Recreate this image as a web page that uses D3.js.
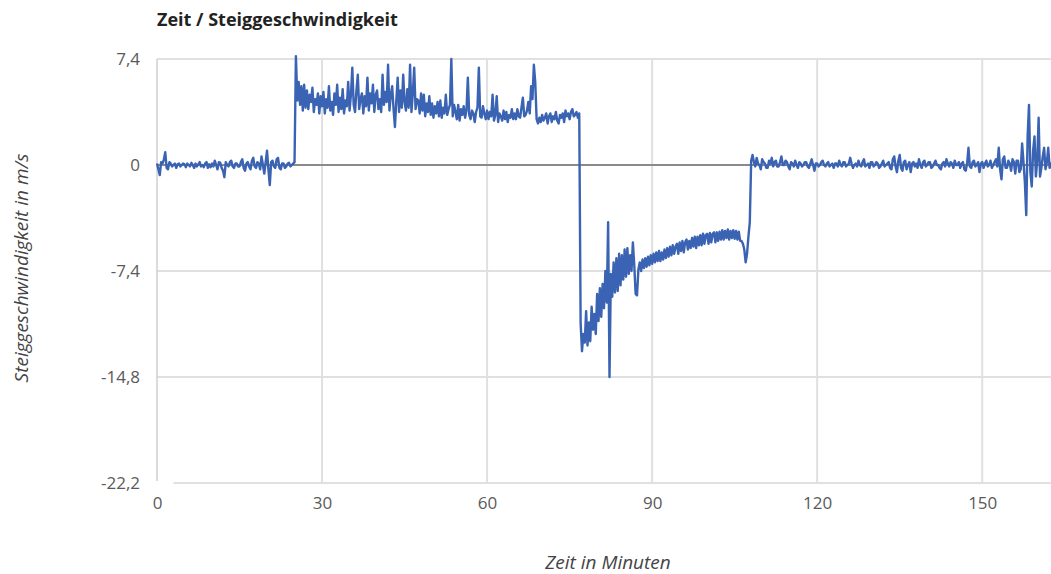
<!DOCTYPE html>
<html><head><meta charset="utf-8">
<script src="https://cdn.jsdelivr.net/npm/d3@7"></script>
<style>
html,body{margin:0;padding:0;background:#fff;}
svg{display:block;font-family:"Open Sans",sans-serif;}
</style></head>
<body><svg id="c" width="1051" height="574"></svg>
<script>
// ---- data ----
const title = "Zeit / Steiggeschwindigkeit";
const xTitle = "Zeit in Minuten";
const yTitle = "Steiggeschwindigkeit in m/s";
const xTicks = [0, 30, 60, 90, 120, 150];
const yTicks = [7.4, 0, -7.4, -14.8, -22.2];
const xDomain = [0, 162.5];
const yDomain = [-22.2, 7.4];
const sampleStepMin = 0.25; // one reading every quarter minute, starting at minute 0
// climb rate (m/s), one reading per quarter minute
const climbRate = [
  // 0 - 25 min: on the ground / waiting
  0.1, -0.3, -0.7, 0.2, 0.1, 0.4, 0.9, -0.2, -0.3, 0.2,
  0.1, -0.1, 0.0, 0.1, -0.2, 0.05, 0.1, -0.1, 0.0, 0.1,
  0.05, -0.15, 0.1, 0.0, -0.1, 0.15, 0.0, -0.2, 0.1, -0.1,
  0.05, 0.2, -0.1, 0.0, -0.15, 0.1, 0.2, -0.2, 0.05, -0.15,
  0.1, -0.1, 0.3, 0.0, -0.3, 0.2, 0.15, -0.2, -0.4, -0.85,
  0.2, 0.0, -0.1, 0.2, 0.3, -0.1, -0.2, 0.1, 0.1, -0.1,
  -0.1, 0.2, 0.4, -0.2, -0.4, 0.1, 0.2, -0.1, -0.3, 0.3,
  0.5, -0.1, -0.2, 0.2, 0.1, -0.3, 0.6, 0.0, -0.6, 0.2,
  1.0, -0.3, -1.4, 0.2, 0.3, -0.1, -0.2, 0.4, 0.5, -0.2,
  -0.3, 0.1, 0.1, -0.2, -0.1, 0.1, 0.15, -0.1, 0.0, 0.1,
  // 25 - 77 min: ascent
  0.2, 7.6, 4.5, 5.8, 4.2, 5.5, 3.8, 5.6, 4.0, 5.2,
  3.9, 4.9, 4.4, 5.4, 3.7, 4.6, 4.2, 5.0, 3.6, 4.8,
  4.1, 5.1, 3.6, 4.6, 4.0, 5.5, 3.8, 4.4, 3.5, 5.0,
  4.2, 5.6, 3.7, 4.7, 3.9, 5.3, 3.6, 4.5, 4.1, 5.8,
  3.8, 4.9, 6.8, 4.2, 3.7, 5.2, 6.3, 3.9, 4.6, 5.0,
  3.6, 4.8, 4.1, 6.1, 3.8, 5.0, 4.3, 5.6, 3.7, 4.9,
  5.2, 3.9, 4.6, 3.7, 6.3, 4.2, 5.1, 4.4, 7.0, 3.8,
  4.9, 5.5, 3.9, 2.65, 4.5, 6.1, 3.7, 5.2, 4.0, 6.3,
  4.4, 3.8, 5.3, 4.0, 7.0, 3.7, 5.0, 6.8, 3.9, 4.6,
  4.5, 3.6, 5.0, 3.8, 4.9, 3.4, 4.3, 3.7, 4.8, 3.5,
  4.3, 3.3, 4.1, 3.6, 4.4, 3.4, 4.5, 3.3, 4.0, 3.6,
  4.9, 3.5, 3.9, 4.2, 7.4, 3.4, 4.2, 3.7, 3.2, 4.2,
  3.1, 3.9, 3.5, 4.1, 3.3, 3.8, 6.1, 3.5, 3.2, 3.8,
  3.6, 3.0, 3.7, 4.0, 6.8, 3.4, 3.3, 4.1, 3.6, 3.2,
  3.8, 3.2, 3.7, 3.4, 4.9, 3.1, 3.5, 4.8, 3.0, 3.6,
  3.4, 3.1, 3.8, 3.2, 3.7, 3.0, 3.5, 3.3, 3.9, 3.2,
  3.6, 3.2, 3.9, 3.4, 3.3, 4.0, 4.7, 3.4, 3.5, 3.8,
  4.4, 3.6, 5.5, 4.6, 7.0, 5.8, 3.2, 2.9, 3.3, 3.0,
  3.5, 3.1, 3.3, 3.6, 2.9, 3.4, 3.6, 3.0, 3.4, 3.2,
  3.7, 3.1, 2.9, 3.5, 3.3, 3.6, 3.0, 3.8, 3.4, 3.6,
  3.2, 3.7, 3.9, 3.4, 3.5, 3.7, 3.3, 3.6,
  // 77 - 108 min: descent
  -11.0, -13.0, -11.8, -12.4, -10.2, -12.6, -11.0, -12.3, -9.9, -11.5,
  -10.4, -11.8, -9.0, -10.9, -8.6, -10.6, -8.3, -10.0, -7.4, -9.6,
  -4.0, -14.8, -7.6, -9.2, -6.8, -8.9, -6.5, -8.8, -6.2, -8.4,
  -6.3, -8.0, -5.9, -7.8, -5.8, -7.6, -6.3, -7.4, -5.4, -7.0,
  -9.0, -9.1, -7.3, -6.8, -7.4, -6.6, -7.2, -6.5, -7.1, -6.4,
  -7.0, -6.3, -6.9, -6.2, -6.8, -6.1, -6.7, -6.0, -6.7, -6.1,
  -6.6, -5.9, -6.5, -5.8, -6.4, -5.7, -6.3, -5.6, -6.2, -5.7,
  -5.5, -6.2, -5.4, -6.0, -5.3, -6.1, -5.4, -5.2, -5.9, -5.3,
  -5.8, -5.1, -5.7, -5.0, -5.8, -5.0, -5.6, -4.9, -5.6, -4.8,
  -5.5, -4.9, -4.8, -5.5, -4.75, -5.4, -4.8, -4.7, -5.4, -4.7,
  -5.3, -4.65, -5.2, -4.55, -5.2, -4.6, -5.1, -4.5, -5.2, -4.6,
  -5.1, -4.55, -5.15, -4.6, -5.2, -4.65, -5.3, -5.3, -5.5, -5.9,
  -6.8, -6.2, -5.0, -4.0,
  // 108 - 162.5 min: landed
  0.3, 0.7, 0.2, -0.1, 0.5, 0.1, 0.0, -0.3, 0.4, 0.2,
  0.1, -0.2, -0.2, 0.3, 0.1, 0.5, -0.1, 0.2, 0.3, -0.1,
  -0.1, 0.2, 0.6, 0.0, 0.0, 0.3, 0.2, -0.1, -0.3, 0.2,
  0.1, -0.1, 0.3, 0.0, -0.2, 0.2, 0.1, -0.1, 0.0, 0.2,
  0.2, -0.1, -0.2, 0.1, 0.4, 0.0, -0.4, 0.1, 0.1, -0.1,
  0.0, 0.2, 0.3, 0.0, -0.1, 0.1, 0.2, -0.1, 0.0, 0.1,
  -0.2, 0.1, 0.1, -0.1, 0.3, 0.0, -0.1, 0.2, 0.2, -0.1,
  0.0, 0.1, 0.5, 0.1, -0.2, 0.0, 0.1, -0.1, 0.3, 0.0,
  -0.1, 0.2, 0.4, -0.1, 0.0, 0.1, -0.2, 0.2, 0.2, -0.1,
  0.0, 0.2, 0.1, -0.2, -0.1, 0.1, 0.3, -0.1, 0.0, 0.1,
  0.2, -0.2, -0.3, 0.4, 0.6, -0.1, -0.5, 0.3, 0.7, -0.2,
  -0.4, 0.2, 0.3, -0.3, 0.0, 0.2, -0.5, 0.1, 0.2, -0.1,
  0.1, -0.2, 0.4, 0.0, -0.2, 0.2, 0.3, -0.1, 0.0, 0.2,
  0.2, -0.2, -0.1, 0.1, 0.3, 0.0, 0.0, -0.2, -0.3, 0.1,
  0.2, -0.1, 0.4, 0.1, -0.1, 0.2, 0.1, -0.2, 0.3, 0.0,
  0.0, 0.2, -0.2, 0.1, 0.2, -0.3, -0.4, 0.1, 1.2, -0.1,
  -0.2, 0.2, 0.3, -0.1, 0.0, 0.2, -0.5, 0.1, 0.2, -0.2,
  0.1, 0.3, -0.1, 0.0, 0.3, -0.2, 0.0, 0.2, 0.4, -0.1,
  1.2, -0.3, -1.0, 0.4, 0.6, -0.2, -0.2, 0.3, 0.1, -0.4,
  0.4, 0.2, -0.6, 0.3, 0.3, -0.5, -0.3, 1.5, 0.2, -1.2,
  -3.5, 2.0, 4.2, -0.5, -1.5, 1.0, 2.0, -0.8, 0.3, 3.3,
  -0.8, -0.2, 0.6, 1.2, -0.3, 0.2, 1.2, -0.2, 0.2
];

// ---- chart ----
const svg = d3.select("#c");
const plotL = 157, plotR = 1051, plotT = 59, plotB = 483;
const x = d3.scaleLinear().domain(xDomain).range([plotL, plotR]);
const y = d3.scaleLinear().domain(yDomain).range([plotB, plotT]);
const fmt = v => String(v).replace(".", ",");

// grid
svg.append("g").selectAll("line").data(yTicks.filter(v => v !== 0)).join("line")
  .attr("x1", plotL).attr("x2", plotR).attr("y1", d => y(d)).attr("y2", d => y(d))
  .attr("stroke", "#e0e0e0").attr("stroke-width", 2);
svg.append("g").selectAll("line").data(xTicks.filter(v => v !== 0)).join("line")
  .attr("x1", d => x(d)).attr("x2", d => x(d)).attr("y1", plotT).attr("y2", plotB)
  .attr("stroke", "#e0e0e0").attr("stroke-width", 2);
// left axis line
svg.append("line").attr("x1", x(0)).attr("x2", x(0)).attr("y1", plotT).attr("y2", plotB)
  .attr("stroke", "#cfcfcf").attr("stroke-width", 1.5);
// zero line
svg.append("line").attr("x1", plotL).attr("x2", plotR).attr("y1", y(0)).attr("y2", y(0))
  .attr("stroke", "#8a8a8a").attr("stroke-width", 2);

// axes via d3 (labels only)
const yAxis = d3.axisLeft(y).tickValues(yTicks).tickFormat(fmt).tickSize(0).tickPadding(17);
const gy = svg.append("g").attr("transform", `translate(${plotL},0)`).call(yAxis);
gy.select(".domain").remove();
gy.selectAll("text").attr("font-size", 17).attr("fill", "#5a5a5a").attr("font-family", "Open Sans");

const xAxis = d3.axisBottom(x).tickValues(xTicks).tickFormat(fmt).tickSize(0).tickPadding(14);
const gx = svg.append("g").attr("transform", `translate(0,${plotB})`).call(xAxis);
gx.select(".domain").remove();
gx.selectAll(".tick").filter(d => d === 0).insert("rect", "text")
  .attr("x", -14).attr("y", -2).attr("width", 30).attr("height", 28).attr("fill", "#fff");
gx.selectAll("text").attr("font-size", 17).attr("fill", "#5a5a5a").attr("font-family", "Open Sans");

// line
const series = climbRate.map((v, i) => ({t: i * sampleStepMin, v}));
svg.append("path").datum(series)
  .attr("fill", "none").attr("stroke", "#3a63b3").attr("stroke-width", 2.4)
  .attr("stroke-linejoin", "round")
  .attr("d", d3.line().x(d => x(d.t)).y(d => y(d.v)));

// titles
svg.append("text").attr("x", 157).attr("y", 26).text(title)
  .attr("font-size", 18).attr("font-weight", "bold").attr("fill", "#222");
svg.append("text").attr("x", 608).attr("y", 569).attr("text-anchor", "middle")
  .attr("font-size", 19).attr("font-style", "italic").attr("fill", "#444").text(xTitle);
svg.append("text").attr("transform", "translate(28,268) rotate(-90)").attr("text-anchor", "middle")
  .attr("font-size", 19).attr("font-style", "italic").attr("fill", "#444").text(yTitle);
</script></body></html>
